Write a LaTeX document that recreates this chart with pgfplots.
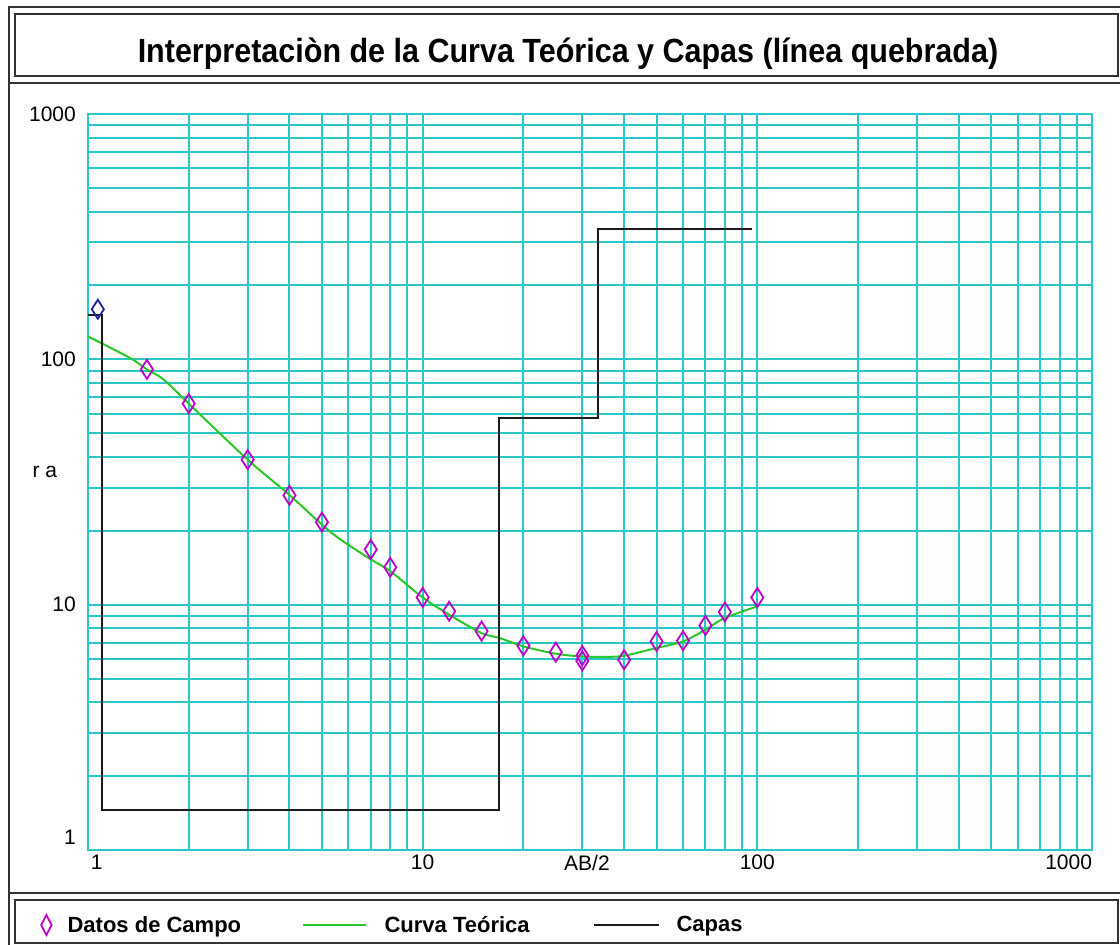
\documentclass[border=0pt]{standalone}
\usepackage{fontspec}
\setmainfont{Liberation Sans}
\usepackage{graphicx}
\usepackage{pgfplots}
\pgfplotsset{compat=1.18}
\definecolor{gridc}{RGB}{40,200,200}
\definecolor{magc}{RGB}{190,0,200}
\definecolor{bluec}{RGB}{30,30,160}
\definecolor{greenc}{RGB}{40,200,40}
\definecolor{framec}{RGB}{50,50,50}
\definecolor{capac}{RGB}{25,25,25}
\pgfplotsset{
  diamleg/.style={legend image code/.code={\path (-5.25pt,0pt) (21pt,0pt);
    \draw[##1, mark size=10pt, mark options={draw=magc, line width=1.8pt, xscale=0.7}] plot coordinates {(0pt,0pt)};}},
  greenleg/.style={legend image code/.code={\draw[##1] (0pt,0pt) -- (63pt,0pt); \path (81pt,0pt);}},
  capaleg/.style={legend image code/.code={\draw[##1] (0pt,0pt) -- (65pt,0pt); \path (82pt,0pt);}},
}
\begin{document}
\begin{tikzpicture}[x=1pt,y=1pt]
\path[use as bounding box] (0,0) rectangle (1120,945);
% frames
\draw[framec, line width=2.2pt] (9,-5) -- (9,{945-7}) -- (1125,{945-7});
\draw[framec, line width=2.2pt] (15,{945-14}) rectangle (1118,{945-76});
\draw[framec, line width=2.2pt] (9,{945-83}) -- (1125,{945-83});
\draw[framec, line width=2.2pt] (9,{945-893}) -- (1125,{945-893});
\draw[framec, line width=2.2pt] (15,{945-900}) rectangle (1118,{945-943});
\node[anchor=base, inner sep=0pt, font=\fontsize{30.5}{36}\selectfont\bfseries] at (568,{945-63}) {\scalebox{1}[1.1]{Interpretaciòn de la Curva Teórica y Capas (línea quebrada)}};

\begin{axis}[
  at={(88pt,95pt)}, anchor=south west,
  scale only axis, width=1004pt, height=736pt,
  xmode=log, ymode=log,
  xmin=1, xmax=1000, ymin=1, ymax=1000,
  xtick={1,10,100,1000},
  xticklabels={\rlap{\hspace{3pt}1},10,100,\llap{1000}},
  ytick={1,10,100,1000},
  yticklabels={\smash{\raisebox{5pt}{1}},10,100,1000},
  grid=both,
  major grid style={draw=gridc, line width=2pt},
  minor grid style={draw=gridc, line width=2pt},
  axis line style={draw=gridc, line width=2pt},
  tick style={draw=none},
  major tick length=0pt, minor tick length=0pt,
  ticklabel style={font=\fontsize{21}{25}\selectfont},
  xticklabel style={anchor=north, inner sep=0pt, yshift=-5pt},
  yticklabel style={anchor=east, inner sep=0pt, xshift=-12pt},
  xlabel={AB/2},
  xlabel style={at={(axis description cs:0.497,0)}, anchor=north, inner sep=0pt, yshift=-5pt, font=\fontsize{21}{25}\selectfont},
  ylabel={r a},
  ylabel style={at={(axis description cs:-0.043,0.513)}, rotate=-90, anchor=center, inner sep=0pt, font=\fontsize{21}{25}\selectfont},
  legend columns=3,
  legend cell align=left,
  legend style={at={(axis description cs:-0.04706,-0.1019)}, anchor=west, draw=none, fill=none,
    inner sep=0pt, column sep=0pt, nodes={inner sep=0pt},
    font=\fontsize{22}{26}\selectfont\bfseries},
]
% first field point (blue)
\addplot[only marks, mark=diamond, mark size=9.5pt,
  mark options={draw=bluec, line width=1.8pt, xscale=0.85}, forget plot]
  coordinates {(1.07,160)};
% field data
\addplot[only marks, mark=diamond, mark size=9.5pt,
  mark options={draw=magc, line width=1.8pt, xscale=0.85}, diamleg]
  table {
x y
1.5 91
2 66
3 39
4 27.9
5 21.7
7 16.8
8 14.2
10 10.7
12 9.4
15 7.8
20 6.8
25 6.4
30 6.2
30 5.9
40 5.96
50 7.08
60 7.13
70 8.23
80 9.34
100 10.7
};
\addlegendentry{\makebox[234pt][l]{Datos de Campo}}
% theoretical curve
\addplot[greenc, line width=2pt, smooth, greenleg]
  table {
x y
1 124
1.33 101.6
1.5 91
1.68 82.9
2 66
3 39
4 28
5 21.2
5.66 18.5
7 15.3
8 13.7
10 10.7
12 9.1
15 7.66
17 7.31
20 6.76
25 6.31
30 6.15
35.5 6.13
40 6.19
50 6.66
60 7.08
70 7.91
80 8.83
100 9.84
};
\addlegendentry{\makebox[208pt][l]{Curva Teórica}}
% layers
\addplot[capac, line width=2pt, capaleg]
  table {
x y
1 151
1.10 151
1.10 1.45
16.9 1.45
16.9 57.8
33.5 57.8
33.5 341
96.2 341
};
\addlegendentry{Capas}
\end{axis}
\end{tikzpicture}
\end{document}
